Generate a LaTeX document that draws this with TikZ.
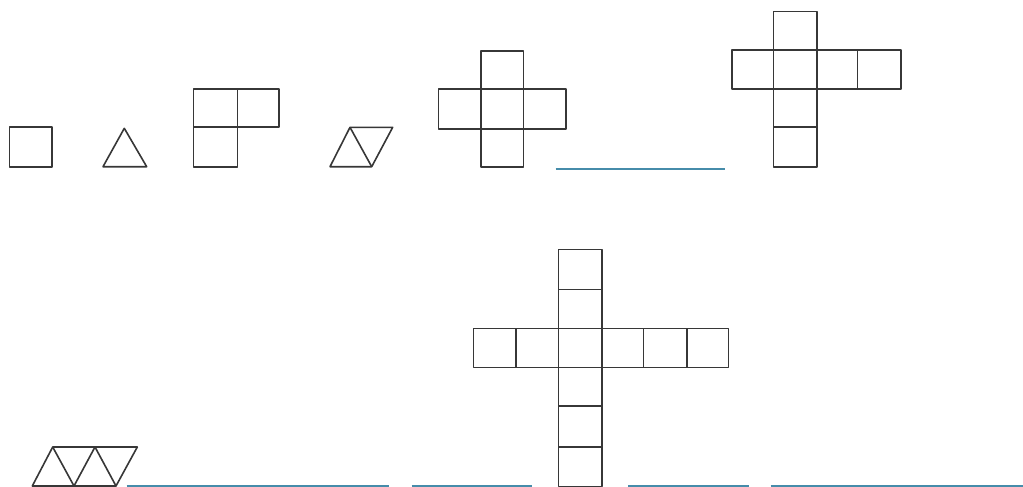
\documentclass[tikz,border=0pt]{standalone}
\usepackage{tikz}
\definecolor{netline}{RGB}{55,55,55}
\definecolor{blank}{RGB}{70,140,170}
\tikzset{
  net/.style={draw=netline, line width=1.6pt, line join=round},
  answer/.style={draw=blank, line width=2pt}
}
\begin{document}
\begin{tikzpicture}[x=1pt,y=-1pt]
\useasboundingbox (0,0) rectangle (1023,487);
% single square
\draw[net] (9.5,127) rectangle (51.7,166.7);
% single triangle
\draw[net] (103,166.7) -- (146.7,166.7) -- (124.3,128.3) -- cycle;
% L of three squares
\draw[net] (193.3,89) rectangle (279,127);
\draw[net] (193.3,127) rectangle (237.3,166.7);
\draw[net] (237.3,89) -- (237.3,127);
% two triangles
\draw[net] (330,166.7) -- (371.7,166.7) -- (392.7,127.3) -- (350,127.3) -- cycle;
\draw[net] (350,127.3) -- (371.7,166.7);
% cross of five squares
\draw[net] (481,51) rectangle (523.3,166.7);
\draw[net] (438.3,89) rectangle (565.7,129);
% blank
\coordinate (b1s) at (555.7,169); \coordinate (b1e) at (725,169);
\draw[answer] (b1s) -- (b1e);
% net of cube
\draw[net] (773.3,11.7) rectangle (816.7,166.7);
\draw[net] (731.7,50) rectangle (900.7,89);
\draw[net] (857.3,50) -- (857.3,89);
\draw[net] (773.3,127) -- (816.7,127);
% big cross
\draw[net] (558.3,249.3) rectangle (602,486.3);
\draw[net] (473.3,328.3) rectangle (728.3,367.3);
\foreach \x in {516,643.3,686.7} \draw[net] (\x,328.3) -- (\x,367.3);
\foreach \y in {289.3,406,446.7} \draw[net] (558.3,\y) -- (602,\y);
% strip of four triangles
\draw[net] (32.3,486) -- (116,486) -- (137.3,447) -- (52.7,447) -- cycle;
\draw[net] (52.7,447) -- (74,486) -- (95,447) -- (116,486);
% bottom blanks
\coordinate (b2s) at (126.7,486); \coordinate (b2e) at (389.3,486);
\coordinate (b3s) at (411.7,486); \coordinate (b3e) at (531.7,486);
\coordinate (b4s) at (628.3,486); \coordinate (b4e) at (749,486);
\coordinate (b5s) at (770.7,486); \coordinate (b5e) at (1023,486);
\draw[answer] (b2s) -- (b2e);
\draw[answer] (b3s) -- (b3e);
\draw[answer] (b4s) -- (b4e);
\draw[answer] (b5s) -- (b5e);
\end{tikzpicture}
\end{document}
